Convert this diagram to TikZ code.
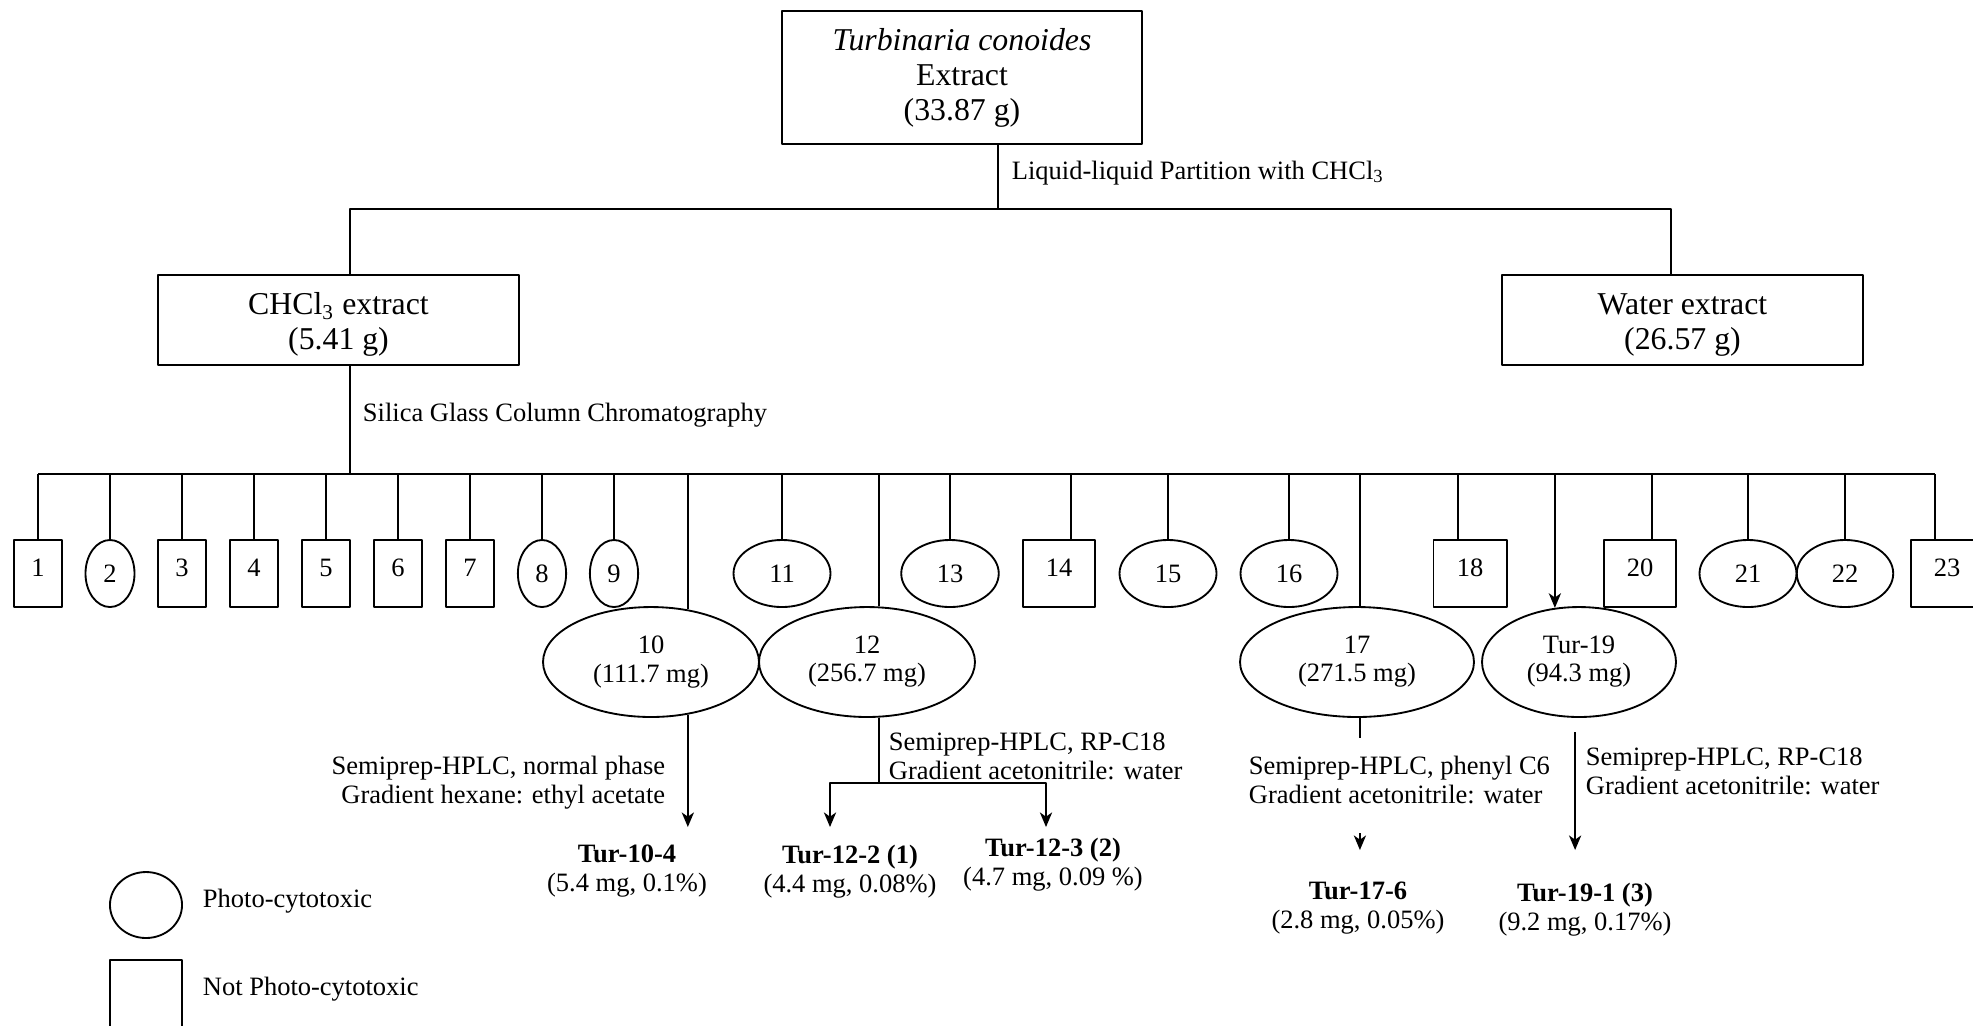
\documentclass[tikz,border=0pt]{standalone}
\usepackage{fontspec}
\setmainfont{Liberation Serif}
\usetikzlibrary{shapes.geometric,arrows.meta}
\newcommand{\upstrut}{\rule{0pt}{12pt}}
\begin{document}
\begin{tikzpicture}[x=0.3774pt, y=-0.3774pt, line width=0.7pt, line join=round,
	>={Stealth[length=5.5pt,width=4.6pt,inset=1.6pt]},
	every node/.style={inner sep=0pt, font=\fontsize{10}{11}\selectfont},
	bigbox/.style={draw, rectangle, align=center, font=\fontsize{12}{13.2}\selectfont},
	frac/.style={draw, rectangle, minimum height=25.3pt, text height=7pt, text depth=5pt},
	fracell/.style={draw, ellipse, minimum height=25.3pt, text height=7pt, text depth=0pt},
	pool/.style={draw, ellipse, minimum width=81.5pt, minimum height=41.5pt, align=center, font=\fontsize{10}{10.6}\selectfont},
	note/.style={anchor=north west, align=left},
	cmpd/.style={anchor=north, align=center}]
	\clip (0,0) rectangle (1973,1025);
	
	% extracts
	\node[bigbox, minimum width=135.9pt, minimum height=50.2pt] (crude) at (962,77.5) {\textit{Turbinaria conoides}\\Extract\\(33.87 g)};
	\node[bigbox, minimum width=136.2pt, minimum height=34pt] (chl) at (338.5,320) {\upstrut CHCl\textsubscript{3} extract\\(5.41 g)};
	\node[bigbox, minimum width=136.2pt, minimum height=34pt] (wat) at (1682.5,320) {\upstrut Water extract\\(26.57 g)};
	
	\path
	(998,209) coordinate (s0)
	(350,209) coordinate (s1)
	(1671,209) coordinate (s2)
	(350,474) coordinate (bus)
	(38,474) coordinate (busL)
	(1935,474) coordinate (busR)
	;
	\draw (crude.south -| s0) -- (s0);
	\draw (chl.north -| s1) |- (s2) -- (wat.north -| s2);
	\node[anchor=base west] (llp) at (1011,179) {Liquid-liquid Partition with CHCl\textsubscript{3}};
	
	\draw (chl.south -| bus) -- (bus);
	\node[anchor=base west] (scc) at (362,421) {Silica Glass Column Chromatography};
	\draw (busL) -- (busR);
	
	% fractions
	\foreach \n/\bx/\cx/\sty/\w in {1/38/38/frac/18.3pt, 2/110/110/fracell/18.5pt, 3/182/182/frac/18.3pt,
		4/254/254/frac/18.3pt, 5/326/326/frac/18.3pt, 6/398/398/frac/18.3pt, 7/470/470/frac/18.3pt,
		8/542/542/fracell/18.2pt, 9/614/614/fracell/18.2pt, 11/782/782/fracell/36.6pt, 13/950/950/fracell/36.8pt,
		14/1071/1059/frac/27.4pt, 15/1168/1168/fracell/36.6pt, 16/1289/1289/fracell/36.6pt, 18/1458/1470/frac/27.6pt,
		20/1652/1640/frac/27.4pt, 21/1748/1748/fracell/36.6pt, 22/1845/1845/fracell/36.4pt, 23/1935/1947/frac/27.4pt}{
		\node[\sty, minimum width=\w] (f\n) at (\cx,573.5) {\n};
		\coordinate (b\n) at (\bx,474);
		\draw (b\n) -- (b\n |- f\n.north);
	}
	
	% active pools
	\node[pool] (e10) at (651,662) {10\\(111.7 mg)};
	\node[pool] (e12) at (867,662) {12\\(256.7 mg)};
	\node[pool, minimum width=88.3pt] (e17) at (1357,662) {17\\(271.5 mg)};
	\node[pool, minimum width=73.2pt] (e19) at (1579,662) {Tur-19\\(94.3 mg)};
	
	\draw (e10.55 |- bus) -- (e10.55);
	\draw (e12.78 |- bus) -- (e12.78);
	\draw (e17.87 |- bus) -- (e17.87);
	\draw[->] (e19.114 |- bus) -- (e19.114);
	
	\path
	(e10.-55 |- 0,827) coordinate (a10)
	(e12.-78 |- 0,783) coordinate (s12)
	(830,827) coordinate (a122)
	(1046,827) coordinate (a123)
	(e17.-87 |- 0,738) coordinate (s17)
	(s17 |- 0,833) coordinate (u17)
	(s17 |- 0,850) coordinate (a17)
	(e19.-94 |- 0,732) coordinate (u19)
	(e19.-94 |- 0,850) coordinate (a19)
	;
	\draw[->] (e10.-55) -- (a10);
	\draw (e12.-78) -- (s12);
	\draw[->] (s12) -| (a122);
	\draw[->] (s12) -| (a123);
	\draw (e17.-87) -- (s17);
	\draw[->] (u17) -- (a17);
	\draw[->] (u19) -- (a19);
	
	% methods
	\node[anchor=north east, align=right] (m10) at (666,755) {Semiprep-HPLC, normal phase\\Gradient hexane: ethyl acetate};
	\node[note] (m12) at (888,732) {Semiprep-HPLC, RP-C18\\Gradient acetonitrile: water};
	\node[note] (m17) at (1248,755) {Semiprep-HPLC, phenyl C6\\Gradient acetonitrile: water};
	\node[note] (m19) at (1585,747) {Semiprep-HPLC, RP-C18\\Gradient acetonitrile: water};
	
	% compounds
	\node[cmpd] (t104) at (627,844) {\textbf{Tur-10-4}\\(5.4 mg, 0.1\%)};
	\node[cmpd] (t122) at (850,844) {\textbf{Tur-12-2 (1)}\\(4.4 mg, 0.08\%)};
	\node[cmpd] (t123) at (1053,837) {\textbf{Tur-12-3 (2)}\\(4.7 mg, 0.09 \%)};
	\node[cmpd] (t176) at (1358,881) {\textbf{Tur-17-6}\\(2.8 mg, 0.05\%)};
	\node[cmpd] (t191) at (1585,882) {\textbf{Tur-19-1 (3)}\\(9.2 mg, 0.17\%)};
	
	% legend
	\node[draw, ellipse, minimum width=27.2pt, minimum height=24.9pt] (legA) at (146,905) {};
	\node[anchor=base west] (legAt) at (202,907) {Photo-cytotoxic};
	\node[draw, rectangle, minimum width=27.2pt, minimum height=30pt] (legB) at (146,1000) {};
	\node[anchor=base west] (legBt) at (202,995) {Not Photo-cytotoxic};
\end{tikzpicture}
\end{document}
